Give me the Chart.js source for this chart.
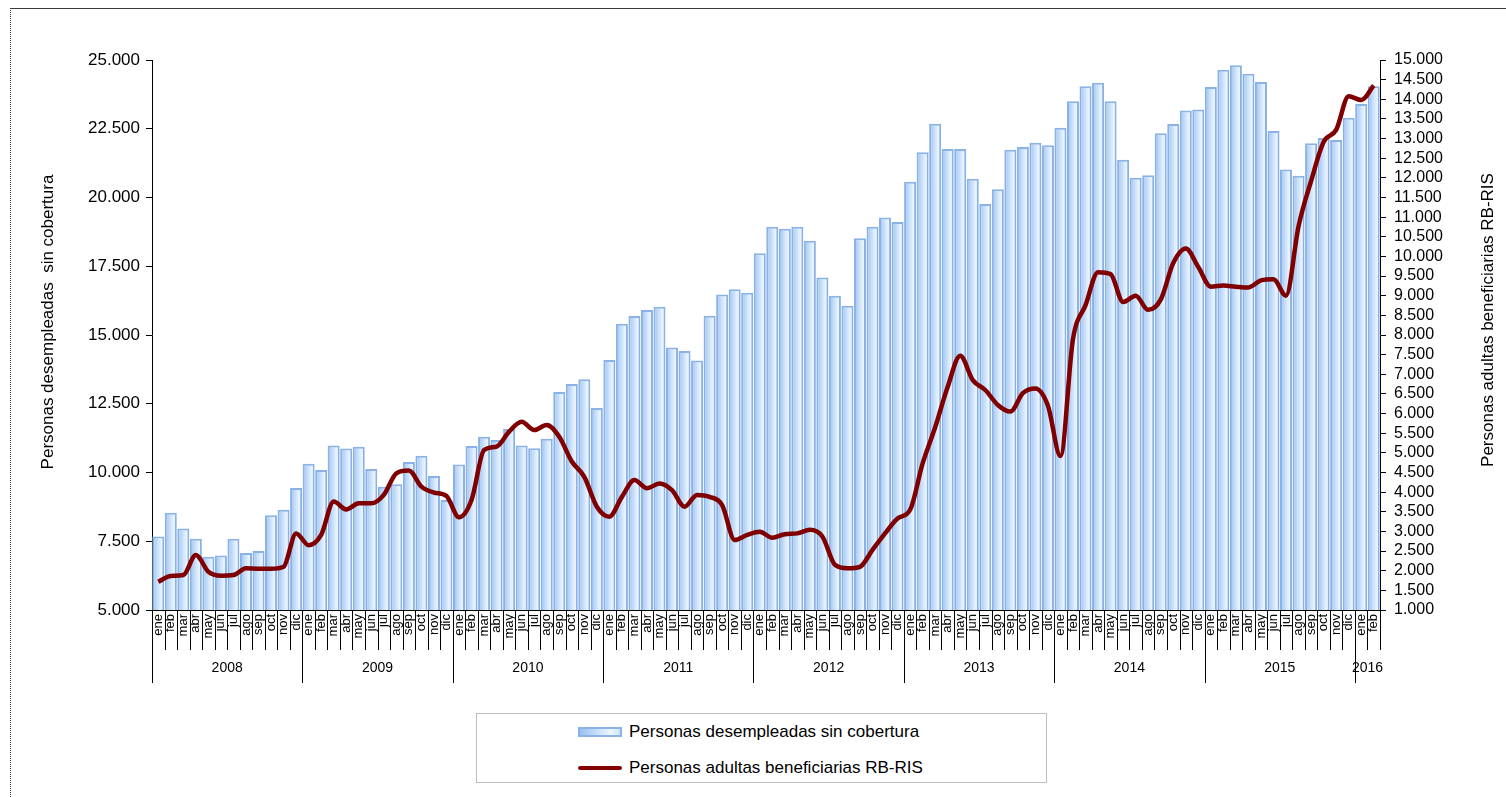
<!DOCTYPE html>
<html lang="es">
<head>
  <meta charset="UTF-8">
  <title>Personas desempleadas sin cobertura y beneficiarias RB-RIS</title>
  <script src="https://cdn.jsdelivr.net/npm/chart.js"></script>
  <style>
    html, body {
      margin: 0;
      padding: 0;
      background: #fff;
    }
    #wrap {
      position: relative;
      width: 1506px;
      height: 797px;
      overflow: hidden;
    }
    #frame {
      position: absolute;
      left: 10px;
      top: 8px;
      right: -4px;
      bottom: -4px;
      border-top: 1px solid #3a3a3a;
      border-left: 1px dotted #3a3a3a;
      pointer-events: none;
    }
    #legend {
      position: absolute;
      left: 476px;
      top: 713px;
      width: 569px;
      height: 68px;
      border: 1px solid #bdbdbd;
      background: #fff;
      font-family: "Liberation Sans", Arial, sans-serif;
      font-size: 17px;
      color: #000;
    }
    .item {
      position: absolute;
      left: 101px;
      height: 20px;
      display: flex;
      align-items: center;
      white-space: nowrap;
    }
    .sw {
      width: 44px;
      margin-right: 7px;
      box-sizing: border-box;
    }
  </style>
</head>
<body>
  <div id="wrap">
    <canvas id="grafico" width="1506" height="797"></canvas>
    <div id="frame"></div>
    <div id="legend"></div>
  </div>

  <script>
    const meses = ['ene','feb','mar','abr','may','jun','jul','ago','sep','oct','nov','dic'];
    const anios = ['2008','2009','2010','2011','2012','2013','2014','2015','2016'];
    const mesesUltimoAnio = 2;

    // Personas desempleadas sin cobertura (eje izquierdo)
    const desempleadas = [
      7670, 8540, 7960, 7590, 6940, 6980, 7590, 7070, 7150, 8450, 8650, 9440,
      10320, 10090, 10980, 10870, 10940, 10130, 9480, 9570, 10380, 10610, 9870, 9000,
      10290, 10960, 11300, 11180, 11580, 10980, 10880, 11230, 12930, 13220, 13390, 12350,
      14090, 15410, 15690, 15910, 16030, 14550, 14420, 14070, 15700, 16470, 16660, 16540,
      17970, 18940, 18860, 18940, 18430, 17090, 16430, 16060, 18520, 18940, 19270, 19110,
      20570, 21650, 22680, 21760, 21760, 20680, 19760, 20300, 21740, 21840, 21990, 21900,
      22540, 23500, 24050, 24170, 23500, 21370, 20720, 20810, 22340, 22670, 23160, 23200,
      24020, 24650, 24810, 24500, 24200, 22420, 21020, 20790, 21970, 22160, 22090, 22900,
      23400, 24050
    ];

    // Personas adultas beneficiarias RB-RIS (eje derecho)
    const beneficiarias = [
      1720, 1865, 1890, 2400, 1975, 1875, 1890, 2060, 2050, 2050, 2100, 2950,
      2650, 2910, 3760, 3560, 3715, 3715, 3930, 4480, 4550, 4140, 3990, 3900,
      3360, 3800, 5070, 5160, 5540, 5790, 5580, 5710, 5410, 4780, 4390, 3630,
      3375, 3880, 4310, 4100, 4220, 4050, 3630, 3930, 3880, 3670, 2780, 2910,
      2990, 2840, 2930, 2950, 3040, 2870, 2150, 2060, 2100, 2530, 2950, 3330,
      3550, 4730, 5650, 6680, 7470, 6850, 6600, 6220, 6050, 6520, 6640, 6200,
      4920, 7900, 8760, 9600, 9550, 8840, 9000, 8640, 8900, 9830, 10200, 9730,
      9230, 9260, 9230, 9210, 9390, 9420, 9000, 10770, 11920, 12910, 13220, 14080,
      13980, 14350
    ];

    const categorias = [];
    anios.forEach((a, k) => {
      const n = k === anios.length - 1 ? mesesUltimoAnio : 12;
      for (let m = 0; m < n; m++) categorias.push(meses[m]);
    });

    const FUENTE = '"Liberation Sans", Arial, sans-serif';
    const ROJO = '#800000';
    const BORDE_BARRA = '#8ab2e6';
    const BAR_PCT = 0.96;

    function miles(v) {
      return String(v).replace(/\B(?=(\d{3})+(?!\d))/g, '.');
    }

    // degradado horizontal de cada barra
    function rellenoBarra(c) {
      const chart = c.chart;
      const xs = chart.scales.x;
      if (c.type !== 'data' || !xs || !chart.chartArea) return '#c4ddf9';
      const paso = xs.width / categorias.length;
      const cx = xs.getPixelForValue(c.dataIndex);
      const w = paso * BAR_PCT;
      const g = chart.ctx.createLinearGradient(cx - w / 2, 0, cx + w / 2, 0);
      g.addColorStop(0, '#9ac1f0');
      g.addColorStop(0.4, '#c4ddf9');
      g.addColorStop(0.78, '#ecf5ff');
      g.addColorStop(1, '#cfe3fa');
      return g;
    }

    const decoracion = {
      id: 'decoracion',
      afterDraw(chart) {
        const { ctx, scales: { x } } = chart;
        const n = categorias.length;
        const paso = x.width / n;
        const borde = i => i < n ? x.getPixelForValue(i) - paso / 2 : x.getPixelForValue(n - 1) + paso / 2;
        const base = chart.chartArea.bottom;
        ctx.save();
        ctx.strokeStyle = '#000';
        ctx.lineWidth = 1;
        ctx.beginPath();
        for (let i = 0; i <= n; i++) {
          const px = Math.round(borde(i)) + 0.5;
          const esAnio = i % 12 === 0 && i < n;
          ctx.moveTo(px, base);
          ctx.lineTo(px, base + (esAnio ? 73 : 40));
        }
        ctx.stroke();

        ctx.fillStyle = '#000';
        ctx.font = '14px ' + FUENTE;
        ctx.textAlign = 'center';
        ctx.textBaseline = 'middle';
        anios.forEach((a, k) => {
          const i0 = k * 12;
          const i1 = Math.min(i0 + 12, n);
          ctx.fillText(a, (borde(i0) + borde(i1)) / 2, base + 58);
        });

        ctx.font = '17px ' + FUENTE;
        ctx.save();
        ctx.translate(48, 322);
        ctx.rotate(-Math.PI / 2);
        ctx.fillText('Personas desempleadas  sin cobertura', 0, 0);
        ctx.restore();
        ctx.save();
        ctx.translate(1488, 320);
        ctx.rotate(-Math.PI / 2);
        ctx.fillText('Personas adultas beneficiarias RB-RIS', 0, 0);
        ctx.restore();
        ctx.restore();
      }
    };

    const ctx = document.getElementById('grafico').getContext('2d');
    const grafico = new Chart(ctx, {
      type: 'bar',
      data: {
        labels: categorias,
        datasets: [
          {
            type: 'line',
            label: 'Personas adultas beneficiarias RB-RIS',
            data: beneficiarias,
            yAxisID: 'y1',
            borderColor: ROJO,
            borderWidth: 4.5,
            pointRadius: 0,
            tension: 0.4,
            cubicInterpolationMode: 'monotone',
            fill: false,
            order: 0
          },
          {
            type: 'bar',
            label: 'Personas desempleadas sin cobertura',
            data: desempleadas,
            yAxisID: 'y',
            backgroundColor: rellenoBarra,
            borderColor: BORDE_BARRA,
            borderWidth: 2,
            borderSkipped: 'bottom',
            barPercentage: BAR_PCT,
            categoryPercentage: 1,
            order: 1
          }
        ]
      },
      options: {
        responsive: false,
        animation: false,
        layout: { padding: { top: 60, left: 0, right: 0, bottom: 0 } },
        plugins: {
          legend: { display: false },
          tooltip: { enabled: false }
        },
        scales: {
          x: {
            type: 'category',
            offset: true,
            grid: { display: false, drawTicks: false },
            border: { display: true, color: '#000', width: 1 },
            ticks: {
              autoSkip: false,
              minRotation: 90,
              maxRotation: 90,
              padding: 4,
              color: '#000',
              font: { family: FUENTE, size: 13 }
            },
            afterFit(s) { s.height = 187; }
          },
          y: {
            position: 'left',
            min: 5000,
            max: 25000,
            grid: { drawOnChartArea: false, tickLength: 6, color: '#000' },
            border: { display: true, color: '#000', width: 1 },
            ticks: {
              stepSize: 2500,
              padding: 6,
              color: '#000',
              font: { family: FUENTE, size: 17 },
              callback: v => miles(v)
            },
            afterFit(s) { s.width = 152; }
          },
          y1: {
            position: 'right',
            min: 1000,
            max: 15000,
            grid: { drawOnChartArea: false, tickLength: 6, color: '#000' },
            border: { display: true, color: '#000', width: 1 },
            ticks: {
              stepSize: 500,
              autoSkip: false,
              padding: 8,
              color: '#000',
              font: { family: FUENTE, size: 16 },
              callback: v => miles(v)
            },
            afterFit(s) { s.width = 126; }
          }
        }
      },
      plugins: [decoracion]
    });

    // leyenda en HTML (recuadro con dos filas)
    const leyenda = document.getElementById('legend');
    const filas = [
      { ds: grafico.data.datasets[1], top: 8, estilo: 'height:10px;border:2px solid ' + BORDE_BARRA + ';background:linear-gradient(90deg,#9ac1f0,#c4ddf9 40%,#ecf5ff 78%,#cfe3fa);' },
      { ds: grafico.data.datasets[0], top: 44, estilo: 'height:4px;border-radius:2px;background:' + ROJO + ';' }
    ];
    filas.forEach(f => {
      const it = document.createElement('div');
      it.className = 'item';
      it.style.top = f.top + 'px';
      const sw = document.createElement('span');
      sw.className = 'sw';
      sw.style.cssText += f.estilo;
      const tx = document.createElement('span');
      tx.textContent = f.ds.label;
      it.appendChild(sw);
      it.appendChild(tx);
      leyenda.appendChild(it);
    });
  </script>
</body>
</html>
